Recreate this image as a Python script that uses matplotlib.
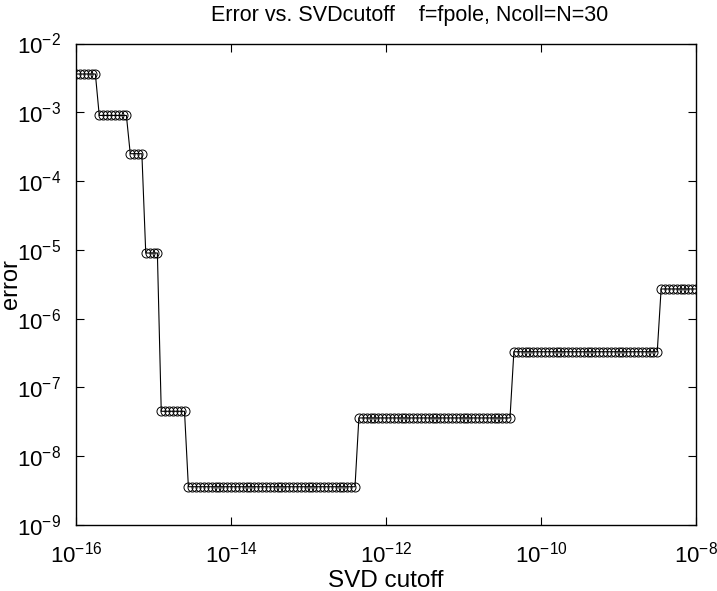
import numpy as np
import matplotlib as mpl
mpl.use('Agg')
import matplotlib.pyplot as plt

mpl.rcParams['font.family'] = ['Liberation Sans', 'DejaVu Sans']
mpl.rcParams['mathtext.fontset'] = 'custom'
mpl.rcParams['mathtext.rm'] = 'Liberation Sans'

# SVD cutoff grid: exponents -16 : 0.05 : -8
grid_start, grid_stop, grid_step = -16.0, -8.0, 0.05

# error plateaus, left to right, and how many grid points sit on each
levels = [3.6e-3, 9.0e-4, 2.5e-4, 9.0e-6, 4.5e-8, 3.6e-9, 3.6e-8, 3.3e-7, 2.7e-6]
counts = [6, 8, 4, 4, 7, 44, 40, 38, 10]

xtick_exp = [-16, -14, -12, -10, -8]
ytick_exp = [-9, -8, -7, -6, -5, -4, -3, -2]


def main():
    npts = int(round((grid_stop - grid_start) / grid_step)) + 1
    cutoff = 10.0 ** np.linspace(grid_start, grid_stop, npts)
    err = np.repeat(levels, counts)

    fig = plt.figure(figsize=(7.17, 5.91), dpi=100)
    # axes box: x 76..696 px, y 43.5..525 px
    ax = fig.add_axes([76 / 717, 66 / 591, 620 / 717, 481.5 / 591])
    ax.loglog(cutoff, err, '-o', color='black', lw=0.8,
              mfc='none', mec='black', ms=6.5, mew=0.7)

    ax.set_xlim(1e-16, 1e-8)
    ax.set_ylim(1e-9, 1e-2)
    ax.set_xticks([10.0 ** e for e in xtick_exp])
    ax.set_yticks([10.0 ** e for e in ytick_exp])
    ax.minorticks_off()
    ax.tick_params(direction='in', top=True, right=True, length=6,
                   width=0.8, labelsize=16)
    ax.tick_params(axis='x', pad=12)
    ax.tick_params(axis='y', pad=11)
    for s in ax.spines.values():
        s.set_linewidth(1.0)

    ax.set_xlabel('SVD cutoff', fontsize=17.5, labelpad=2)
    ax.set_ylabel('error', fontsize=17, va='center')
    ax.yaxis.set_label_coords((11 - 76) / 620, 0.5)
    ax.set_title('Error vs. SVDcutoff    f=fpole, Ncoll=N=30', fontsize=15.5,
                 x=(410 - 76) / 620, pad=16)

    fig.savefig('out.png', dpi=100)


if __name__ == '__main__':
    main()
